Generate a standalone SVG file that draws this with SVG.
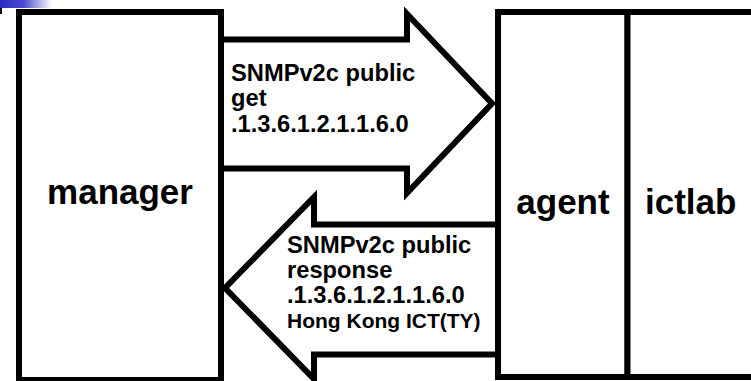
<svg xmlns="http://www.w3.org/2000/svg" width="751" height="381" viewBox="0 0 751 381">
  <defs>
    <linearGradient id="cornerFade" x1="0" y1="0" x2="1" y2="0">
      <stop offset="0" stop-color="#2a2ac4"/>
      <stop offset="0.45" stop-color="#4a4ad0"/>
      <stop offset="1" stop-color="#ffffff"/>
    </linearGradient>
    <style>
      .box { fill: #ffffff; stroke: #000000; stroke-width: 6; }
      .arrow { fill: #ffffff; stroke: #000000; stroke-width: 6; stroke-linejoin: miter; }
      .big { font-family: "Liberation Sans", Arial, sans-serif; font-weight: bold; font-size: 35px; fill: #000000; }
      .msg { font-family: "Liberation Sans", Arial, sans-serif; font-weight: bold; font-size: 23.7px; fill: #000000; }
      .msg-small { font-size: 21px; }
    </style>
  </defs>

  <rect x="0" y="0" width="751" height="381" fill="#ffffff"/>

  <!-- corner decoration -->
  <rect x="0" y="0" width="52" height="8" fill="url(#cornerFade)"/>
  <rect x="0" y="8" width="2" height="6" fill="#000000"/>

  <!-- connectors: block arrows -->
  <g id="connectors">
    <g id="request">
      <polygon class="arrow" points="221,39.5 407,39.5 407,14 492,103.5 407,193 407,168.5 221,168.5"/>
      <text class="msg" x="231" y="80.7">SNMPv2c public</text>
      <text class="msg" x="231" y="106">get</text>
      <text class="msg" x="231" y="131.7">.1.3.6.1.2.1.1.6.0</text>
    </g>
    <g id="response">
      <polygon class="arrow" points="498,224.5 314,224.5 314,197 225,288 314,379 314,354.5 498,354.5"/>
      <text class="msg" x="287" y="253.3">SNMPv2c public</text>
      <text class="msg" x="287" y="278.3">response</text>
      <text class="msg" x="287" y="303.3">.1.3.6.1.2.1.1.6.0</text>
      <text class="msg msg-small" x="287" y="328.3">Hong Kong ICT(TY)</text>
    </g>
  </g>

  <!-- nodes -->
  <g id="manager">
    <rect class="box" x="19" y="12" width="202" height="368"/>
    <text class="big" x="120" y="204" text-anchor="middle">manager</text>
  </g>
  <g id="agent">
    <rect class="box" x="498" y="12" width="129.5" height="365"/>
    <text class="big" x="563" y="214" text-anchor="middle">agent</text>
  </g>
  <g id="ictlab">
    <rect class="box" x="627.5" y="12" width="140" height="365"/>
    <text class="big" x="645" y="214">ictlab</text>
  </g>
</svg>
